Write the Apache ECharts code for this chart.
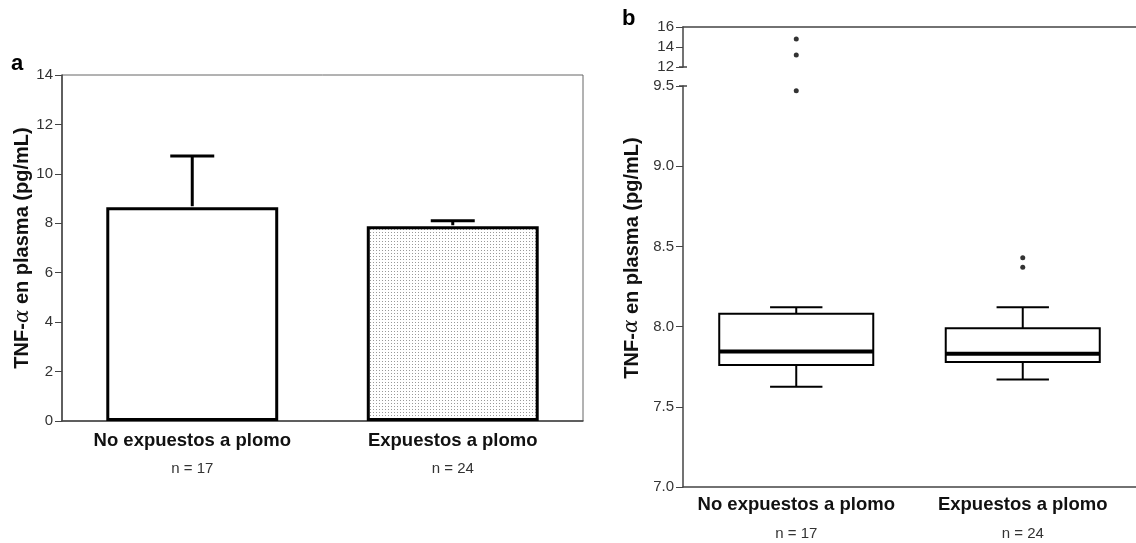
<!DOCTYPE html>
<html>
<head>
<meta charset="utf-8">
<script src="https://cdn.jsdelivr.net/npm/echarts@6/dist/echarts.min.js"></script>
<style>
  html, body { margin: 0; padding: 0; background: #fff; }
  #chart { width: 1136px; height: 543px; }
</style>
</head>
<body>
<div id="chart"></div>
<script>
const groups = ['No expuestos a plomo', 'Expuestos a plomo']
const groupN = [17, 24]

// panel a: mean and top of the error bar
const barMeans = [8.65, 7.88]
const barErrTop = [10.72, 8.1]

// panel b: [low whisker, Q1, median, Q3, high whisker]
const boxStats = [
  [7.625, 7.76, 7.845, 8.08, 8.12],
  [7.67, 7.78, 7.83, 7.99, 8.12]
]
// [group index, value]
const outliers = [[0, 9.47], [0, 13.2], [0, 14.8], [1, 8.37], [1, 8.43]]

const lowerMax = 9.5
const upperMin = 12

const font = '"Liberation Sans", Arial, sans-serif'
const axisColor = '#444'
const titleText = 'TNF-{a|α} en plasma (pg/mL)'
const titleRich = {
  a: { fontFamily: '"DejaVu Serif", serif', fontStyle: 'italic', fontWeight: 'normal', fontSize: 20, color: '#111' }
}

// stipple fill for the second bar
const dots = document.createElement('canvas')
dots.width = 3
dots.height = 3
const dctx = dots.getContext('2d')
dctx.fillStyle = '#fff'
dctx.fillRect(0, 0, 3, 3)
dctx.fillStyle = '#999'
dctx.fillRect(1, 1, 1, 1)

const catLabel = (rich) => ({
  formatter: (v, i) => `{t|${v}}\n{n|n = ${groupN[i]}}`,
  margin: 7,
  rich
})

const valueAxis = (extra) => Object.assign({
  type: 'value',
  axisLine: { show: true, lineStyle: { color: axisColor, width: 1.5 } },
  axisTick: { show: true, length: 7, lineStyle: { color: axisColor } },
  axisLabel: { fontSize: 15, color: '#333', margin: 9 },
  splitLine: { show: false }
}, extra)

const chart = echarts.init(document.getElementById('chart'))
chart.setOption({
  animation: false,
  textStyle: { fontFamily: font },
  graphic: [
    { type: 'text', left: 11, top: 53, style: { text: 'a', font: 'bold 22px ' + font, fill: '#000' } },
    { type: 'text', left: 622, top: 8, style: { text: 'b', font: 'bold 22px ' + font, fill: '#000' } },
    {
      type: 'text', x: 632, y: 258, rotation: Math.PI / 2,
      style: {
        text: titleText, rich: titleRich, fontFamily: font, fontWeight: 'bold', fontSize: 20, fill: '#111',
        align: 'center', verticalAlign: 'middle'
      }
    }
  ],
  grid: [
    { left: 62, top: 75, width: 521, height: 346, show: true, borderColor: '#666', borderWidth: 1 },
    { left: 683, top: 86, width: 460, height: 401 },
    { left: 683, top: 27, width: 460, height: 40 }
  ],
  xAxis: [
    {
      gridIndex: 0, type: 'category', data: groups,
      axisLine: { lineStyle: { color: axisColor, width: 1.5 } },
      axisTick: { alignWithLabel: true, length: 6, lineStyle: { color: axisColor } },
      axisLabel: catLabel({
        t: { fontWeight: 'bold', fontSize: 18.5, color: '#111', lineHeight: 26 },
        n: { fontSize: 15, color: '#333', lineHeight: 30 }
      })
    },
    {
      gridIndex: 1, type: 'category', data: groups,
      axisLine: { lineStyle: { color: axisColor, width: 1.5 } },
      axisTick: { alignWithLabel: true, length: 6, lineStyle: { color: axisColor } },
      axisLabel: catLabel({
        t: { fontWeight: 'bold', fontSize: 18.5, color: '#111', lineHeight: 22 },
        n: { fontSize: 15, color: '#333', lineHeight: 36 }
      })
    },
    {
      gridIndex: 2, type: 'category', data: groups, position: 'top',
      axisLine: { lineStyle: { color: axisColor, width: 1.5 } },
      axisTick: { show: false },
      axisLabel: { show: false }
    }
  ],
  yAxis: [
    valueAxis({
      gridIndex: 0, min: 0, max: 14, interval: 2,
      name: titleText, nameLocation: 'middle', nameGap: 29,
      nameTextStyle: { fontWeight: 'bold', fontSize: 20, color: '#111', rich: titleRich }
    }),
    valueAxis({
      gridIndex: 1, min: 7, max: lowerMax, interval: 0.5,
      axisLabel: { fontSize: 15, color: '#333', margin: 9, formatter: (v) => v.toFixed(1) }
    }),
    valueAxis({ gridIndex: 2, min: upperMin, max: 16, interval: 2 })
  ],
  series: [
    {
      type: 'bar', xAxisIndex: 0, yAxisIndex: 0, barWidth: '66%',
      data: barMeans.map((v, i) => ({
        value: v,
        itemStyle: {
          color: i === 0 ? '#fff' : { image: dots, repeat: 'repeat' },
          borderColor: '#000', borderWidth: 3
        }
      }))
    },
    {
      type: 'custom', xAxisIndex: 0, yAxisIndex: 0, z: 5,
      data: barMeans.map((v, i) => [i, v, barErrTop[i]]),
      encode: { x: 0, y: [1, 2] },
      renderItem: (params, api) => {
        const base = api.coord([api.value(0), api.value(1)])
        const top = api.coord([api.value(0), api.value(2)])
        const half = 22
        const style = { stroke: '#000', lineWidth: 3 }
        return {
          type: 'group',
          children: [
            { type: 'line', shape: { x1: base[0], y1: base[1] - 1, x2: top[0], y2: top[1] }, style },
            { type: 'line', shape: { x1: top[0] - half, y1: top[1], x2: top[0] + half, y2: top[1] }, style }
          ]
        }
      }
    },
    {
      type: 'custom', xAxisIndex: 1, yAxisIndex: 1,
      data: boxStats.map((s, i) => [i, ...s]),
      encode: { x: 0, y: [1, 2, 3, 4, 5] },
      renderItem: (params, api) => {
        const i = api.value(0)
        const lo = api.coord([i, api.value(1)])
        const q1 = api.coord([i, api.value(2)])
        const med = api.coord([i, api.value(3)])
        const q3 = api.coord([i, api.value(4)])
        const hi = api.coord([i, api.value(5)])
        const bw = api.size([1, 0])[0] * 0.68
        const cw = bw * 0.34
        const x = lo[0]
        const style = { stroke: '#000', lineWidth: 2, fill: null }
        return {
          type: 'group',
          children: [
            { type: 'line', shape: { x1: x, y1: hi[1], x2: x, y2: q3[1] }, style },
            { type: 'line', shape: { x1: x, y1: q1[1], x2: x, y2: lo[1] }, style },
            { type: 'line', shape: { x1: x - cw / 2, y1: hi[1], x2: x + cw / 2, y2: hi[1] }, style },
            { type: 'line', shape: { x1: x - cw / 2, y1: lo[1], x2: x + cw / 2, y2: lo[1] }, style },
            { type: 'rect', shape: { x: x - bw / 2, y: q3[1], width: bw, height: q1[1] - q3[1] }, style: { stroke: '#000', lineWidth: 2, fill: '#fff' } },
            { type: 'line', shape: { x1: x - bw / 2, y1: med[1], x2: x + bw / 2, y2: med[1] }, style: { stroke: '#000', lineWidth: 4 } }
          ]
        }
      }
    },
    {
      type: 'scatter', xAxisIndex: 1, yAxisIndex: 1, symbolSize: 5,
      itemStyle: { color: '#000' },
      data: outliers.filter((o) => o[1] <= lowerMax)
    },
    {
      type: 'scatter', xAxisIndex: 2, yAxisIndex: 2, symbolSize: 5,
      itemStyle: { color: '#000' },
      data: outliers.filter((o) => o[1] >= upperMin)
    },
    // short marks where the axis is broken
    {
      type: 'custom', xAxisIndex: 2, yAxisIndex: 2, z: 6,
      data: [[0, upperMin]],
      encode: { x: 0, y: 1 },
      renderItem: (params, api) => {
        const p = api.coord([0, api.value(1)])
        const x = params.coordSys.x
        return { type: 'line', shape: { x1: x - 4, y1: p[1], x2: x + 4, y2: p[1] }, style: { stroke: axisColor, lineWidth: 1.5 } }
      }
    },
    {
      type: 'custom', xAxisIndex: 1, yAxisIndex: 1, z: 6,
      data: [[0, lowerMax]],
      encode: { x: 0, y: 1 },
      renderItem: (params, api) => {
        const p = api.coord([0, api.value(1)])
        const x = params.coordSys.x
        return { type: 'line', shape: { x1: x - 4, y1: p[1], x2: x + 4, y2: p[1] }, style: { stroke: axisColor, lineWidth: 1.5 } }
      }
    }
  ]
})
</script>
</body>
</html>
